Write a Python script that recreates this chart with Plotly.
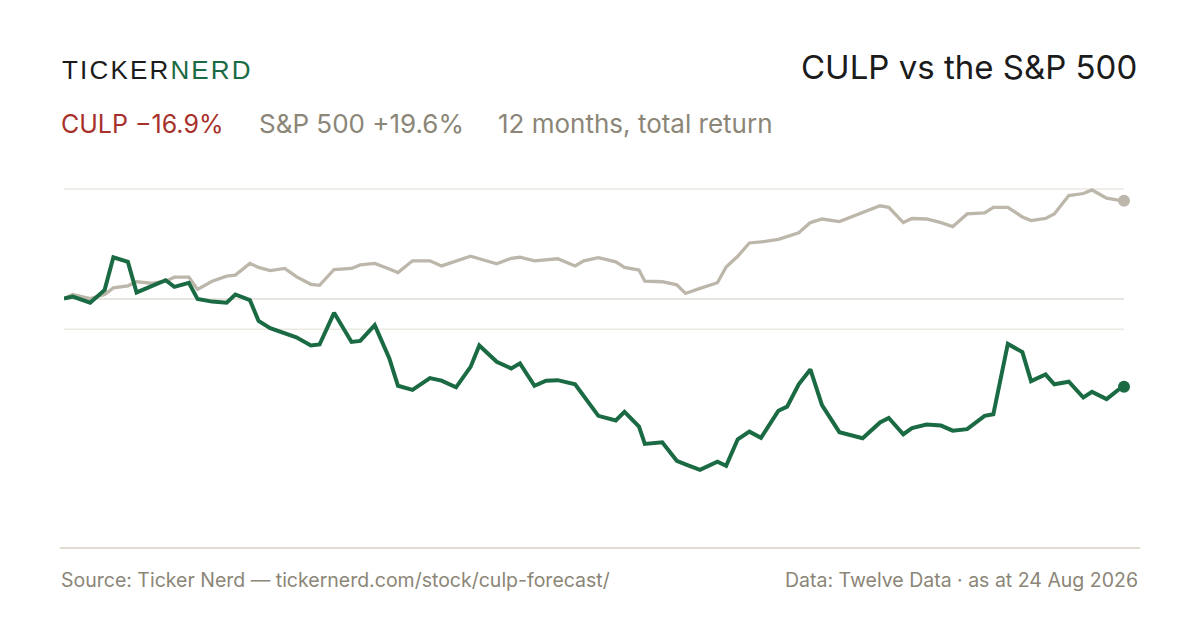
import plotly.graph_objects as go

# ---- data ----
DAYS = [0, 3, 9, 14, 17, 22, 25, 30, 35, 38, 43, 46, 51, 56, 59, 64, 67, 71, 76, 80,
        85, 88, 93, 99, 102, 107, 112, 115, 120, 126, 130, 135, 140, 143, 149, 154, 157,
        162, 166, 170, 176, 179, 184, 190, 193, 198, 200, 206, 211, 214, 219, 225, 228,
        232, 236, 240, 246, 249, 253, 257, 261, 267, 275, 281, 284, 289, 292, 297, 302,
        306, 311, 317, 320, 325, 330, 333, 338, 341, 346, 351, 354, 359, 363, 365]

CULP = [0.4, 0.8, -0.4, 2.1, 8.5, 7.6, 1.6, 2.7, 4.0, 2.7, 3.5, 0.3, -0.2, -0.4, 1.2,
        0.1, -4.0, -5.4, -6.5, -7.2, -8.8, -8.6, -2.4, -8.1, -7.9, -4.8, -11.3, -16.7,
        -17.5, -15.2, -15.7, -17.0, -13.0, -8.8, -12.0, -13.3, -12.3, -16.7, -15.7, -15.6,
        -16.4, -18.8, -22.6, -23.5, -21.8, -24.7, -28.1, -27.8, -31.4, -32.1, -33.2, -31.6,
        -32.4, -27.2, -25.7, -26.9, -21.6, -20.8, -16.4, -13.5, -20.5, -25.8, -27.0, -23.9,
        -23.0, -26.2, -25.0, -24.3, -24.5, -25.5, -25.2, -22.6, -22.3, -8.5, -10.1, -15.8,
        -14.5, -16.4, -15.9, -19.0, -17.9, -19.3, -17.5, -16.9]

SPX = [0.4, 1.2, 0.4, 1.2, 2.5, 2.9, 3.7, 3.4, 3.8, 4.6, 4.6, 2.2, 3.8, 4.8, 5.0, 7.3,
       6.5, 5.9, 6.3, 4.7, 3.2, 3.0, 6.1, 6.3, 7.0, 7.3, 6.2, 5.5, 7.8, 7.8, 6.8, 7.8, 8.7,
       8.2, 7.2, 8.3, 8.5, 7.8, 8.0, 8.2, 6.8, 7.8, 8.4, 7.6, 6.5, 6.0, 3.8, 3.7, 3.1, 1.4,
       2.4, 3.5, 6.6, 8.7, 11.3, 11.5, 12.0, 12.5, 13.3, 15.3, 16.0, 15.5, 17.2, 18.6, 18.3,
       15.3, 16.1, 16.0, 15.3, 14.5, 17.0, 17.2, 18.3, 18.3, 16.4, 15.7, 16.1, 17.0, 20.6,
       21.0, 21.7, 20.1, 19.7, 19.6]

GRID_VALUES = [21.9, -5.6]
BASELINE = 0.3

TITLE = "CULP vs the S&P 500"
CULP_LABEL = "CULP \u221216.9%"
SPX_LABEL = "S&P 500 +19.6%"
PERIOD_LABEL = "12 months, total return"
SOURCE = "Source: Ticker Nerd \u2014 tickernerd.com/stock/culp-forecast/"
DATA_NOTE = "Data: Twelve Data \u00b7 as at 24 Aug 2026"

# ---- styling ----
GREEN = "#1a6a43"
GREY_LINE = "#bdb6aa"
RED = "#a8302b"
MUTED = "#8b8677"
INK = "#1b1b1b"
FONT = "Inter, Liberation Sans, sans-serif"

OFF = 8  # page body margin
W, H = 1200 - OFF, 630 - OFF
L, R, T, B = 56, 76, 152, 110
PW, PH = W - L - R, H - T - B


def px(x):
    return (x - OFF - L) / PW


def py(y):
    return (H - B - (y - OFF)) / PH


fig = go.Figure()

fig.add_trace(go.Scatter(x=DAYS, y=SPX, mode="lines", cliponaxis=False,
                         line=dict(color=GREY_LINE, width=3.3), hoverinfo="skip"))
fig.add_trace(go.Scatter(x=DAYS, y=CULP, mode="lines", cliponaxis=False,
                         line=dict(color=GREEN, width=4), hoverinfo="skip"))
fig.add_trace(go.Scatter(x=[DAYS[-1]], y=[SPX[-1]], mode="markers", cliponaxis=False,
                         marker=dict(color=GREY_LINE, size=12), hoverinfo="skip"))
fig.add_trace(go.Scatter(x=[DAYS[-1]], y=[CULP[-1]], mode="markers", cliponaxis=False,
                         marker=dict(color=GREEN, size=12), hoverinfo="skip"))

shapes = []
for v in GRID_VALUES:
    shapes.append(dict(type="line", xref="paper", yref="y", x0=0, x1=1, y0=v, y1=v,
                       line=dict(color="#ece9e3", width=1.5), layer="below"))
shapes.append(dict(type="line", xref="paper", yref="y", x0=0, x1=1, y0=BASELINE, y1=BASELINE,
                   line=dict(color="#dfdcd4", width=1.5), layer="below"))
shapes.append(dict(type="line", xref="paper", yref="paper", x0=px(60), x1=px(1140),
                   y0=py(548), y1=py(548), line=dict(color="#e0dcd2", width=2)))

ann = []
logo = ("<span style='color:%s'>T\u200aI\u200aC\u200aK\u200aE\u200aR</span>\u200a"
        "<span style='color:%s'>N\u200aE\u200aR\u200aD</span>") % (INK, GREEN)
ann.append(dict(text=logo, x=px(60), y=py(70), xanchor="left", yanchor="middle",
                font=dict(family="Liberation Sans, Arial, sans-serif", size=26, color=INK)))
ann.append(dict(text=TITLE, x=px(1139), y=py(67), xanchor="right", yanchor="middle",
                font=dict(family=FONT, size=33, color=INK)))
ann.append(dict(text=CULP_LABEL, x=px(59), y=py(124), xanchor="left", yanchor="middle",
                font=dict(family=FONT, size=25, color=RED)))
ann.append(dict(text=SPX_LABEL, x=px(257), y=py(124), xanchor="left", yanchor="middle",
                font=dict(family=FONT, size=26, color=MUTED)))
ann.append(dict(text=PERIOD_LABEL, x=px(496), y=py(124), xanchor="left", yanchor="middle",
                font=dict(family=FONT, size=26, color=MUTED)))
ann.append(dict(text=SOURCE, x=px(59), y=py(580), xanchor="left", yanchor="middle",
                font=dict(family=FONT, size=19.5, color=MUTED)))
ann.append(dict(text=DATA_NOTE, x=px(1140), y=py(580), xanchor="right", yanchor="middle",
                font=dict(family=FONT, size=19.5, color=MUTED)))
for a in ann:
    a.update(xref="paper", yref="paper", showarrow=False)

fig.update_layout(
    width=W, height=H,
    margin=dict(l=L, r=R, t=T, b=B),
    paper_bgcolor="white", plot_bgcolor="white",
    showlegend=False,
    xaxis=dict(range=[0, 365], visible=False, fixedrange=True),
    yaxis=dict(range=[-43.02, 27.57], visible=False, fixedrange=True),
    shapes=shapes, annotations=ann,
)

fig.write_html("out.html", config={"displayModeBar": False})
